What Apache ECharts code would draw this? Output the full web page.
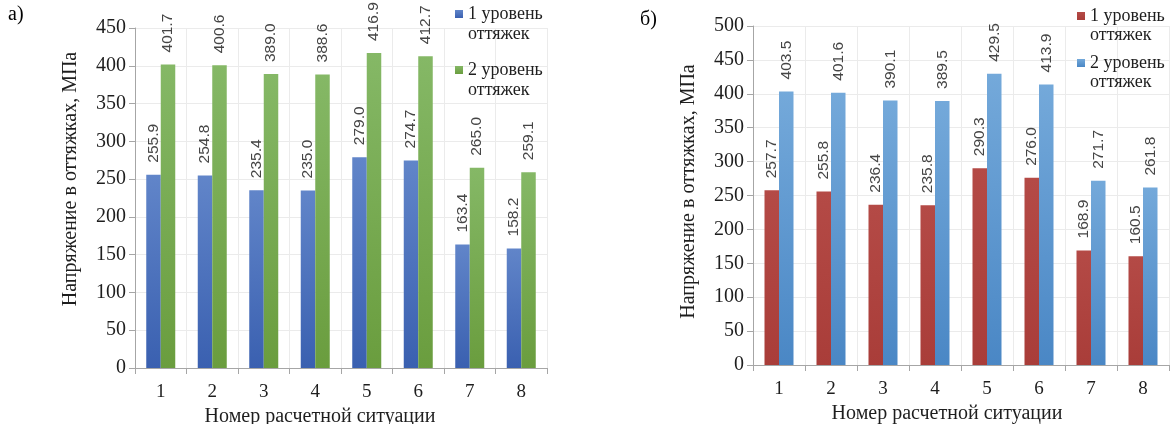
<!DOCTYPE html>
<html><head><meta charset="utf-8">
<script src="https://cdn.jsdelivr.net/npm/echarts@6/dist/echarts.min.js"></script>
<style>
html,body{margin:0;padding:0;background:#fff;}
#a{position:absolute;left:0;top:0;width:620px;height:424px;}
#b{position:absolute;left:620px;top:0;width:550px;height:424px;}
</style></head><body>
<div id="a"></div><div id="b"></div>
<script>
const categories = ['1','2','3','4','5','6','7','8'];
const seriesNames = ['1 уровень оттяжек', '2 уровень оттяжек'];
const leftLevel1 = [255.9, 254.8, 235.4, 235.0, 279.0, 274.7, 163.4, 158.2];
const leftLevel2 = [401.7, 400.6, 389.0, 388.6, 416.9, 412.7, 265.0, 259.1];
const rightLevel1 = [257.7, 255.8, 236.4, 235.8, 290.3, 276.0, 168.9, 160.5];
const rightLevel2 = [403.5, 401.6, 390.1, 389.5, 429.5, 413.9, 271.7, 261.8];
const leftYMax = 450, rightYMax = 500, yStep = 50;
const yName = 'Напряжение в оттяжках, МПа';
const xName = 'Номер расчетной ситуации';

const serif = 'Liberation Serif';
const sans = 'Liberation Sans';
function grad(top, bottom){
  return new echarts.graphic.LinearGradient(0,0,0,1,[{offset:0,color:top},{offset:1,color:bottom}]);
}
function bar(name, data, color){
  return {
    name, type:'bar', data, barWidth:14.5, barGap:'0%',
    itemStyle:{color},
    label:{show:true, position:'top', rotate:90, align:'left', verticalAlign:'middle', distance:12,
      color:'#454545', fontFamily:sans, fontSize:15.5, formatter:p=>p.value.toFixed(1)}
  };
}
function legendItem(name, left, top, lh){
  return {
    orient:'vertical', left, top, itemWidth:8, itemHeight:8, icon:'rect',
    formatter: n => '\n' + n.replace(' оттяжек', '\nоттяжек'),
    textStyle:{fontFamily:serif, fontSize:18, color:'#1e1e1e', lineHeight:lh},
    data:[name]
  };
}
function build(opt){
  return {
    animation:false,
    textStyle:{fontFamily:serif},
    graphic:[{type:'text', left:opt.tagX, top:opt.tagY, style:{text:opt.tag, font:'20px "Liberation Serif"', fill:'#000'}}],
    legend:[
      legendItem(seriesNames[0], opt.legX, opt.legT1, opt.lh),
      legendItem(seriesNames[1], opt.legX, opt.legT2, opt.lh)
    ],
    grid:{left:opt.gl, top:opt.gt, width:opt.gw, height:opt.gh, outerBoundsMode:'none', containLabel:false},
    xAxis:{
      type:'category', data:categories,
      name:xName, nameLocation:'middle', nameGap:27,
      nameTextStyle:{fontFamily:serif, fontSize:20, color:'#1e1e1e', padding:[0,opt.xShift,0,0]},
      axisLine:{lineStyle:{color:'#a6a6a6'}},
      axisTick:{show:true, length:6, lineStyle:{color:'#a6a6a6'}},
      axisLabel:{fontFamily:serif, fontSize:19, color:'#1e1e1e', margin:15},
      splitLine:{show:true, lineStyle:{color:'#ebebeb'}}
    },
    yAxis:{
      type:'value', min:0, max:opt.ymax, interval:yStep,
      name:yName, nameLocation:'middle', nameGap:54, nameRotate:90,
      nameTextStyle:{fontFamily:serif, fontSize:20, color:'#1e1e1e', padding:[0,0,0,opt.yShift]},
      axisLine:{show:true, lineStyle:{color:'#a6a6a6'}},
      axisTick:{show:true, length:6, lineStyle:{color:'#a6a6a6'}},
      axisLabel:{fontFamily:serif, fontSize:20, color:'#1e1e1e', margin:9},
      splitLine:{show:true, lineStyle:{color:'#ebebeb'}}
    },
    series:[bar(seriesNames[0], opt.d1, opt.c1), bar(seriesNames[1], opt.d2, opt.c2)]
  };
}
const ca = echarts.init(document.getElementById('a'));
ca.setOption(build({
  tag:'а)', tagX:8, tagY:5, legX:450, legT1:-21, legT2:35, lh:20,
  gl:135, gt:28, gw:412, gh:340, ymax:leftYMax, xShift:42, yShift:38,
  d1:leftLevel1, d2:leftLevel2,
  c1:grad('#6185c9','#3a60b0'), c2:grad('#85b866','#6a9d3e')
}));
const cb = echarts.init(document.getElementById('b'));
cb.setOption(build({
  tag:'б)', tagX:20, tagY:10, legX:452, legT1:-17.5, legT2:29.5, lh:19,
  gl:133, gt:26, gw:416, gh:339, ymax:rightYMax, xShift:28, yShift:8,
  d1:rightLevel1, d2:rightLevel2,
  c1:grad('#b44a46','#a93d39'), c2:grad('#74a9da','#4a87c5')
}));
</script></body></html>
